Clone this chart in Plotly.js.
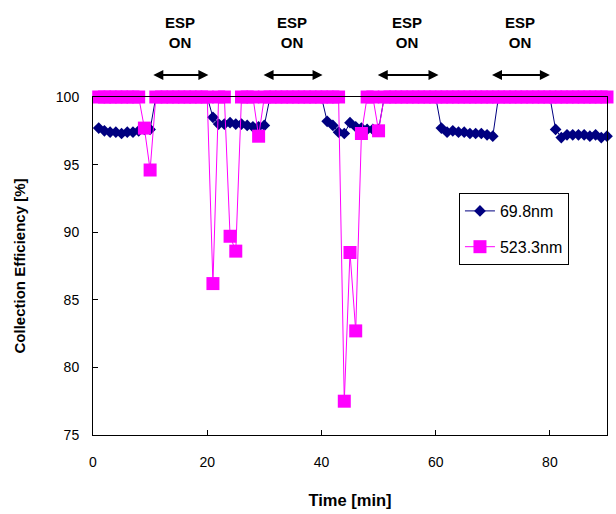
<!DOCTYPE html>
<html>
<head>
<meta charset="utf-8">
<script src="https://cdn.plot.ly/plotly-3.0.1.min.js"></script>
<style>html,body{margin:0;padding:0;background:#fff;}#chart{width:616px;height:514px;}</style>
</head>
<body>
<div id="chart"></div>
<script>
// Time [min]
const time = [];
for (let t = 1; t <= 90; t++) time.push(t);

// 69.8nm collection efficiency [%]
const eff698 = [
  97.7, 97.5, 97.4, 97.4, 97.3, 97.4, 97.4, 97.5, 97.6, 97.6,
  100, 100, 100, 100, 100, 100, 100, 100, 100, 100,
  98.5, 98.0, 98.0, 98.1, 98.0, 98.0, 97.9, 97.8, 97.8, 97.9,
  100, 100, 100, 100, 100, 100, 100, 100, 100, 100,
  98.2, 97.9, 97.4, 97.3, 98.1, 97.8, 97.7, 97.6, 97.6, 97.6,
  100, 100, 100, 100, 100, 100, 100, 100, 100, 100,
  97.7, 97.4, 97.5, 97.4, 97.4, 97.3, 97.3, 97.3, 97.2, 97.1,
  100, 100, 100, 100, 100, 100, 100, 100, 100, 100,
  97.6, 97.0, 97.2, 97.2, 97.2, 97.2, 97.1, 97.2, 97.0, 97.1
];

// 523.3nm collection efficiency [%]
const eff5233 = [
  100, 100, 100, 100, 100, 100, 100, 100, 97.7, 94.6,
  100, 100, 100, 100, 100, 100, 100, 100, 100, 100,
  86.2, 100, 100, 89.7, 88.6, 100, 100, 100, 97.1, 100,
  100, 100, 100, 100, 100, 100, 100, 100, 100, 100,
  100, 100, 100, 77.5, 88.5, 82.7, 97.3, 100, 100, 97.5,
  100, 100, 100, 100, 100, 100, 100, 100, 100, 100,
  100, 100, 100, 100, 100, 100, 100, 100, 100, 100,
  100, 100, 100, 100, 100, 100, 100, 100, 100, 100,
  100, 100, 100, 100, 100, 100, 100, 100, 100, 100
];

const seriesNames = ["69.8nm", "523.3nm"];
const xTicks = [0, 20, 40, 60, 80];
const yTicks = [75, 80, 85, 90, 95, 100];

// ESP ON periods (arrow spans, min)
const espStart = [10.3, 29.6, 49.6, 69.6];
const espEnd = [20.2, 40.2, 60.5, 80.0];
const espLabel = "ESP<br>ON";

const FONT = "Liberation Sans, Arial, sans-serif";

const traces = [
  {
    x: time, y: eff698, name: seriesNames[0], type: "scatter", mode: "lines+markers",
    line: {color: "#000080", width: 1},
    marker: {symbol: "diamond", size: 9, color: "#000080"},
    cliponaxis: false, legendgroup: "a"
  },
  {
    x: time, y: eff5233, name: seriesNames[1], type: "scatter", mode: "lines+markers",
    line: {color: "#FF00FF", width: 1},
    marker: {symbol: "square", size: 13, color: "#FF00FF"},
    cliponaxis: false, legendgroup: "b"
  }
];

const annotations = [];
for (let i = 0; i < espStart.length; i++) {
  const mid = (espStart[i] + espEnd[i]) / 2;
  annotations.push({
    x: mid, y: 1.19, xref: "x", yref: "paper", text: "<b>" + espLabel + "</b>",
    showarrow: false, font: {family: FONT, size: 15, color: "#000"},
    xanchor: "center", yanchor: "middle", align: "center"
  });
  annotations.push({
    x: espEnd[i], y: 1.065, ax: espStart[i], ay: 1.065,
    xref: "x", yref: "paper", axref: "x", ayref: "paper",
    text: "", showarrow: true, arrowhead: 2, arrowside: "end+start",
    arrowsize: 1, arrowwidth: 2, arrowcolor: "#000"
  });
}

const layout = {
  width: 616, height: 514,
  margin: {l: 93, r: 9, t: 97, b: 79, pad: 0},
  paper_bgcolor: "#fff", plot_bgcolor: "#fff",
  showlegend: true,
  legend: {
    x: 0.712, y: 0.716, xanchor: "left", yanchor: "top",
    bordercolor: "#000", borderwidth: 1, bgcolor: "#fff",
    font: {family: FONT, size: 16, color: "#000"},
    traceorder: "grouped", tracegroupgap: 12
  },
  xaxis: {
    range: [0, 90], tickvals: xTicks, ticktext: xTicks.map(String),
    ticks: "inside", ticklen: 5, tickcolor: "#000",
    showline: true, linecolor: "#000", linewidth: 1, mirror: true,
    showgrid: false, zeroline: false,
    tickfont: {family: FONT, size: 14, color: "#000"},
    ticklabelstandoff: 14,
    title: {text: "<b>Time [min]</b>", font: {family: FONT, size: 16.5, color: "#000"}, standoff: 25}
  },
  yaxis: {
    range: [75, 100], tickvals: yTicks, ticktext: yTicks.map(String),
    ticks: "inside", ticklen: 5, tickcolor: "#000",
    showline: true, linecolor: "#000", linewidth: 1, mirror: true,
    showgrid: false, zeroline: false,
    tickfont: {family: FONT, size: 14, color: "#000"},
    ticklabelstandoff: 10,
    title: {text: "<b>Collection Efficiency [%]</b>", font: {family: FONT, size: 15, color: "#000"}, standoff: 26}
  },
  annotations: annotations
};

Plotly.newPlot("chart", traces, layout, {displayModeBar: false, staticPlot: true});
</script>
</body>
</html>
